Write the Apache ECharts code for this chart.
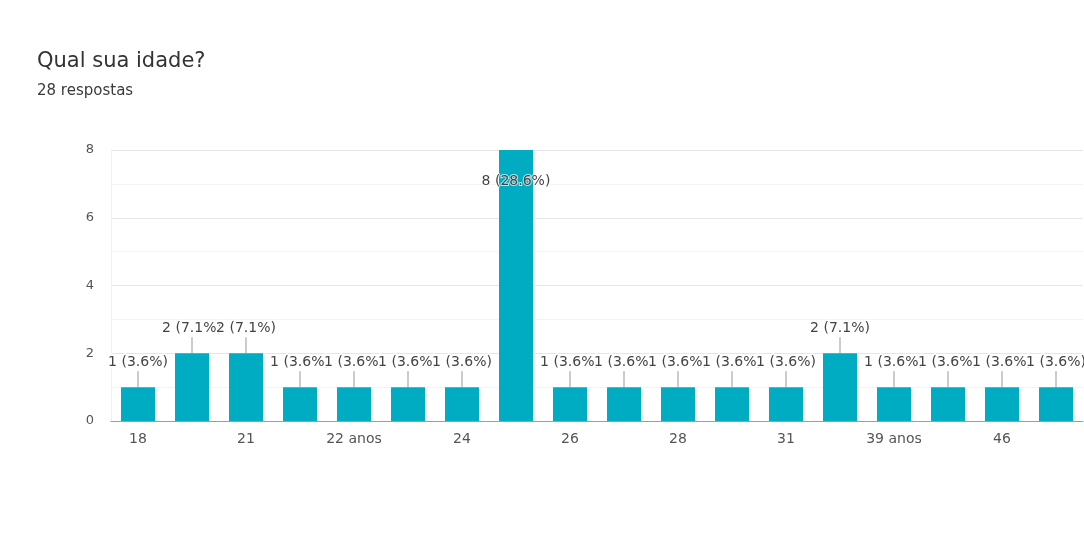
<!DOCTYPE html>
<html><head><meta charset="utf-8">
<script src="https://cdn.jsdelivr.net/npm/echarts@6/dist/echarts.min.js"></script>
<style>html,body{margin:0;padding:0;background:#fff}#c{width:1084px;height:535px}</style>
</head><body><div id="c"></div>
<script>
const categories = ['18','20','21','22','22 anos','23','24','25','26','27','28','30','31','35','39 anos','40','46','50'];
const values = [1,2,2,1,1,1,1,8,1,1,1,1,1,2,1,1,1,1];
const yTicks = [0,2,4,6,8];
const titleText = 'Qual sua idade?';
const subText = '28 respostas';
const total = values.reduce((a,b)=>a+b,0);
const FONT = 'DejaVu Sans';

const chart = echarts.init(document.getElementById('c'));
chart.setOption({
  animation:false,
  backgroundColor:'#fff',
  title:{text:titleText, subtext:subText, left:32, top:46, itemGap:12,
    textStyle:{fontFamily:FONT,fontSize:21,fontWeight:'normal',color:'#333'},
    subtextStyle:{fontFamily:FONT,fontSize:15,color:'#3a3a3a'}},
  grid:{left:111,right:1,top:150,bottom:114},
  xAxis:{type:'category',data:categories,
    axisLine:{lineStyle:{color:'#9e9e9e'}},axisTick:{show:false},
    axisLabel:{interval:1,fontFamily:FONT,fontSize:14,color:'#555',margin:11}},
  yAxis:{type:'value',min:0,max:8,interval:1,
    axisLine:{show:true,lineStyle:{color:'#f0f0f0'}},axisTick:{show:false},
    axisLabel:{fontFamily:FONT,fontSize:13,color:'#555',margin:17,
      formatter:v=>yTicks.includes(v)?String(v):''},
    splitLine:{lineStyle:{color:['#e6e6e6','#f4f4f4']}}},
  series:[
    {type:'bar',data:values,barWidth:34,itemStyle:{color:'#00acc1'},z:2},
    {type:'custom',z:5,data:values.map((v,i)=>[i,v]),
      renderItem:(params,api)=>{
        const i=api.value(0), v=api.value(1);
        const p=api.coord([i,v]);
        const txt=v+' ('+(v/total*100).toFixed(1)+'%)';
        const gy=params.coordSys.y;
        if(p[1]-30<gy){
          return {type:'text',style:{text:txt,x:p[0],y:p[1]+31,align:'center',verticalAlign:'middle',
            fill:'#444',font:'14px "'+FONT+'"',stroke:'rgba(255,255,255,0.7)',lineWidth:2}};
        }
        return {type:'group',children:[
          {type:'line',shape:{x1:p[0],y1:p[1],x2:p[0],y2:p[1]-16},style:{stroke:'#999',lineWidth:1}},
          {type:'text',style:{text:txt,x:p[0],y:p[1]-25,align:'center',verticalAlign:'middle',
            fill:'#444',font:'14px "'+FONT+'"',stroke:'#fff',lineWidth:3}}
        ]};
      }}
  ]
});
</script></body></html>
